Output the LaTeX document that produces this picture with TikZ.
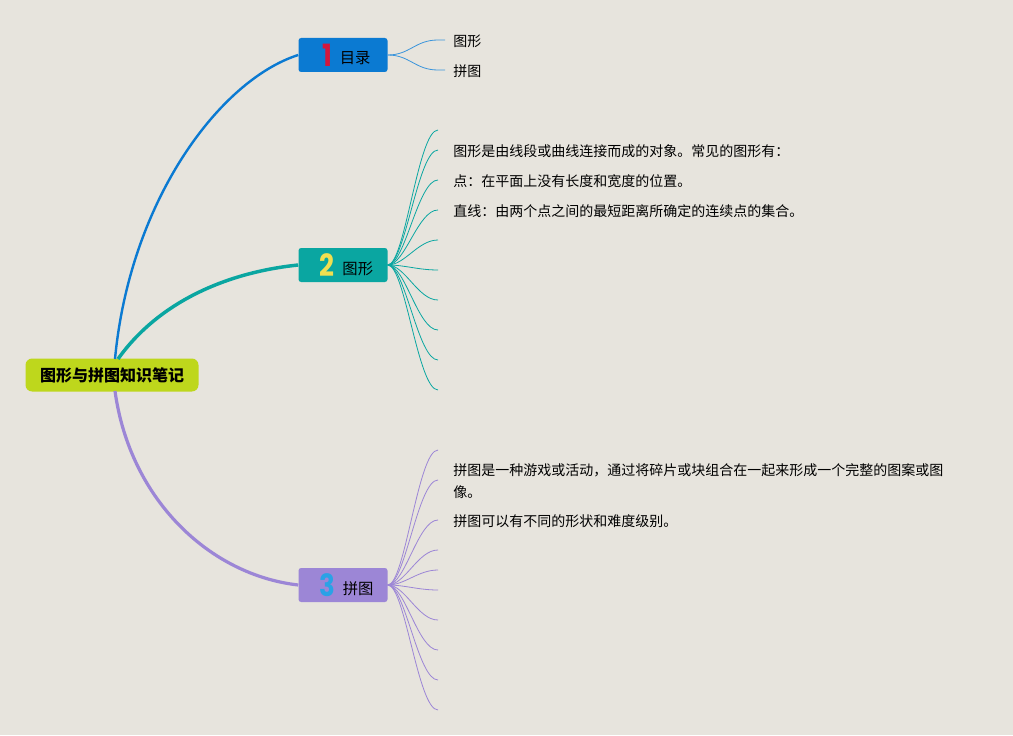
\documentclass[tikz,border=0pt]{standalone}
\usepackage{fontspec}
\setmainfont{Noto Sans CJK SC}
\newfontfamily\cjk{Noto Sans CJK SC}
\newfontfamily\numfont{Poppins}
\definecolor{bgc}{HTML}{E7E4DD}
\definecolor{rootc}{HTML}{BED71C}
\definecolor{bluec}{HTML}{0B7AD2}
\definecolor{tealc}{HTML}{0AA6A1}
\definecolor{purpc}{HTML}{9C86D6}
\definecolor{numa}{HTML}{D3173C}
\definecolor{numb}{HTML}{F1DF50}
\definecolor{numc}{HTML}{2AA2E6}
\tikzset{
  rootbox/.style={fill=rootc, rounded corners=5pt, minimum width=129.75pt, minimum height=24.75pt, inner sep=0pt, font=\cjk\fontsize{12pt}{14pt}\selectfont\bfseries},
  topicbox/.style={rounded corners=2pt, minimum width=66.75pt, minimum height=25.5pt, inner sep=0pt, font=\cjk\fontsize{11.5pt}{13pt}\selectfont},
  leaftext/.style={anchor=west, inner sep=0pt, font=\cjk\fontsize{10.5pt}{16pt}\selectfont, align=left},
  mainline/.style={line width=2pt},
  subline/.style={line width=0.6pt},
}
\newcommand{\bignum}[3]{\hspace*{5pt}\raisebox{-0.5pt}{\textcolor{#1}{\scalebox{0.85}[1]{\numfont\bfseries\fontsize{23pt}{23pt}\selectfont #2}}}\hspace{6pt}\raisebox{1.2pt}{#3}}
\begin{document}
\begin{tikzpicture}[x=0.75pt,y=-0.75pt]
\fill[bgc] (0,0) rectangle (1013,735);
\useasboundingbox (0,0) rectangle (1013,735);

% root and topics
\node[rootbox] (root) at (112,375) {图形与拼图知识笔记};
\node[topicbox, fill=bluec] (t1) at (343,55) {\bignum{numa}{1}{目录}};
\node[topicbox, fill=tealc] (t2) at (343,265) {\bignum{numb}{2}{图形}};
\node[topicbox, fill=purpc] (t3) at (343,585) {\bignum{numc}{3}{拼图}};

% main connectors
\coordinate (r1) at (115,359);
\coordinate (r2) at (118,359);
\coordinate (r3) at (115,391);
\draw[mainline, bluec, line width=1.8pt] (r1) .. controls (130,200) and (220,80) .. (t1.west);
\draw[mainline, tealc, line width=2.6pt] (r2) .. controls (160,300) and (230,272) .. (t2.west);
\draw[mainline, purpc, line width=2.4pt] (r3) .. controls (130,500) and (210,575) .. (t3.west);

% topic 1 leaves
\node[leaftext] (a1) at (453,41) {图形};
\node[leaftext] (a2) at (453,71) {拼图};
\foreach \y/\n in {40/a1, 70/a2}{
  \draw[subline, bluec!80] (t1.east) .. controls (410,55) and (415,\y) .. (438,\y) -- (445,\y);
}

% topic 2 leaves
\node[leaftext] (b2) at (453,151) {图形是由线段或曲线连接而成的对象。常见的图形有：};
\node[leaftext] (b3) at (453,181) {点：在平面上没有长度和宽度的位置。};
\node[leaftext] (b4) at (453,211) {直线：由两个点之间的最短距离所确定的连续点的集合。};
\foreach \y in {130,150,180,210,240,270,300,330,360,390}{
  \draw[subline, tealc] (t2.east) .. controls (405,265) and (418,\y) .. (438,\y);
}

% topic 3 leaves
\node[leaftext] (c1) at (453,481) {拼图是一种游戏或活动，通过将碎片或块组合在一起来形成一个完整的图案或图\\像。};
\node[leaftext] (c2) at (453,521) {拼图可以有不同的形状和难度级别。};
\foreach \y in {450,480,520,550,570,590,620,650,680,710}{
  \draw[subline, purpc] (t3.east) .. controls (405,585) and (418,\y) .. (438,\y);
}
\end{tikzpicture}
\end{document}
